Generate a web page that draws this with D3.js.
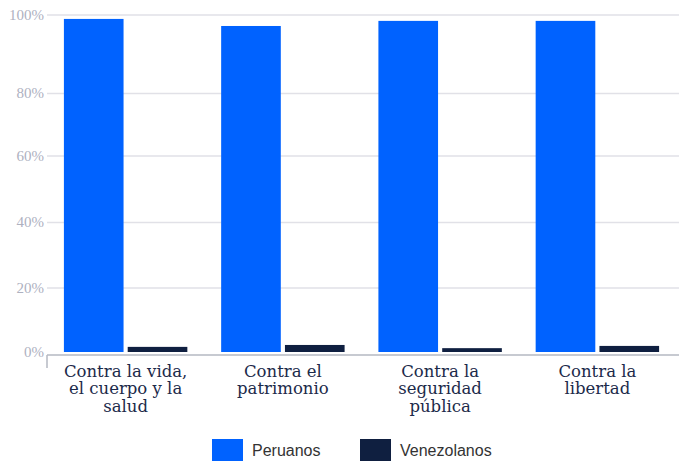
<!DOCTYPE html>
<html>
<head>
<meta charset="utf-8">
<script src="https://cdn.jsdelivr.net/npm/d3@7"></script>
<style>
  html, body { margin: 0; padding: 0; background: #fff; }
  svg { display: block; }
</style>
</head>
<body>
<svg id="chart" width="679" height="461"></svg>
<script>
const categories = [
  ["Contra la vida,", "el cuerpo y la", "salud"],
  ["Contra el", "patrimonio"],
  ["Contra la", "seguridad", "pública"],
  ["Contra la", "libertad"]
];
const seriesNames = ["Peruanos", "Venezolanos"];
const peruanos = [99.0, 97.2, 98.5, 98.5];
const venezolanos = [1.6, 2.2, 1.2, 1.9];
const yTicks = [0, 20, 40, 60, 80, 100];
const colors = ["#0062ff", "#0f1f40"];

const svg = d3.select("#chart");
const left = 47, right = 676;

const x0 = d3.scaleBand().domain(d3.range(categories.length)).range([left, right]).paddingInner(0.215).paddingOuter(0.1075);
const x1 = d3.scaleBand().domain(seriesNames).range([0, x0.bandwidth()]).paddingInner(0.065);
const y = d3.scaleLinear().domain(yTicks).range([352, 288, 222.5, 156, 93.5, 15]);

// gridlines
svg.append("g").selectAll("line").data(yTicks.filter(d => d > 0)).join("line")
  .attr("x1", left).attr("x2", 679)
  .attr("y1", d => y(d)).attr("y2", d => y(d))
  .attr("stroke", "#e1e1e7").attr("stroke-width", 1.5);

// y labels
svg.append("g").selectAll("text").data(yTicks).join("text")
  .attr("x", 44).attr("y", d => y(d)).attr("dy", "0.33em")
  .attr("text-anchor", "end")
  .attr("font-family", "Liberation Serif, serif").attr("font-size", 15)
  .attr("fill", "#aeb1bf")
  .text(d => d + "%");

// bars
const series = [peruanos, venezolanos];
const g = svg.append("g");
series.forEach((vals, si) => {
  g.selectAll(".s" + si).data(vals).join("rect")
    .attr("class", "s" + si)
    .attr("x", (d, i) => x0(i) + x1(seriesNames[si]))
    .attr("width", x1.bandwidth())
    .attr("y", d => y(d))
    .attr("height", d => y(0) - y(d))
    .attr("fill", colors[si]);
});

// baseline axis
svg.append("line").attr("x1", left).attr("x2", 679)
  .attr("y1", y(0) + 3).attr("y2", y(0) + 3)
  .attr("stroke", "#b5b8c2").attr("stroke-width", 1.5);
svg.append("line").attr("x1", left).attr("x2", left)
  .attr("y1", y(0) + 3).attr("y2", y(0) + 16)
  .attr("stroke", "#b5b8c2").attr("stroke-width", 1.5);

// x labels
const xl = svg.append("g").selectAll("text").data(categories).join("text")
  .attr("text-anchor", "middle")
  .attr("font-family", "DejaVu Serif, serif").attr("font-size", 16.5)
  .attr("fill", "#1c2a4a");
xl.each(function(lines, i) {
  const t = d3.select(this);
  lines.forEach((ln, j) => {
    t.append("tspan").attr("x", x0(i) + x0.bandwidth() / 2).attr("y", 377 + j * 17.3).text(ln);
  });
});

// legend
const legendX = [212, 360];
const lg = svg.append("g").selectAll("g").data(seriesNames).join("g")
  .attr("transform", (d, i) => `translate(${legendX[i]},439)`);
lg.append("rect").attr("width", 31).attr("height", 22).attr("fill", (d, i) => colors[i]);
lg.append("text").attr("x", 40).attr("y", 11).attr("dy", "0.35em")
  .attr("font-family", "Liberation Sans, Arial, sans-serif").attr("font-size", 16)
  .attr("fill", "#333").text(d => d);
</script>
</body>
</html>
